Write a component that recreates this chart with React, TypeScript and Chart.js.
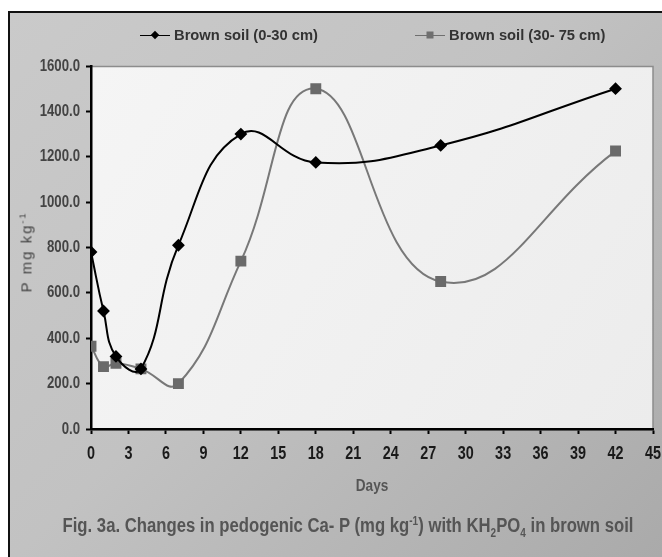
import React, { useEffect, useRef } from "react";
import { Chart, registerables } from "chart.js";

Chart.register(...registerables);

// ---- data ----
const days = [0, 1, 2, 4, 7, 12, 18, 28, 42];
const topsoil = [780, 520, 320, 265, 810, 1300, 1175, 1250, 1500];
const subsoil = [365, 275, 290, 265, 200, 740, 1500, 650, 1225];
const seriesNames = ["Brown soil (0-30 cm)", "Brown soil (30- 75 cm)"];
const xTitle = "Days";
const xMin = 0;
const xMax = 45;
const xStep = 3;
const yMin = 0;
const yMax = 1600;
const yStep = 200;

const FONT = '"Liberation Sans", Arial, sans-serif';
const CANVAS_TEXT_SX = 0.8; // condensed look of the original lettering

const condensedText = {
  id: "condensedText",
  beforeInit(chart: any) {
    const ctx = chart.ctx as any;
    if (ctx.__condensed) return;
    const orig = ctx.fillText.bind(ctx);
    ctx.fillText = (text: string, x: number, y: number, maxWidth?: number) => {
      ctx.save();
      ctx.translate(x, y);
      ctx.scale(CANVAS_TEXT_SX, 1);
      if (maxWidth !== undefined) orig(text, 0, 0, maxWidth / CANVAS_TEXT_SX);
      else orig(text, 0, 0);
      ctx.restore();
    };
    ctx.__condensed = true;
  },
};

const plotBg = {
  id: "plotBg",
  beforeDraw(chart: any) {
    const { ctx, chartArea: a } = chart;
    ctx.save();
    const g = ctx.createLinearGradient(a.left, a.top, a.right, a.bottom);
    g.addColorStop(0, "#f5f5f5");
    g.addColorStop(1, "#ececec");
    ctx.fillStyle = g;
    ctx.fillRect(a.left, a.top, a.right - a.left, a.bottom - a.top);
    ctx.strokeStyle = "#8c8c8c";
    ctx.lineWidth = 1.5;
    ctx.strokeRect(a.left, a.top + 0.5, a.right - a.left, a.bottom - a.top);
    ctx.restore();
  },
};

function LegendItem(props: { left: number; label: string; color: string; marker: "diamond" | "square" }) {
  const { left, label, color, marker } = props;
  const markerStyle: any =
    marker === "diamond"
      ? { width: 6, height: 6, background: color, transform: "translate(-50%,-50%) rotate(45deg)" }
      : { width: 7, height: 7, background: color, transform: "translate(-50%,-50%)" };
  return (
    <div style={{ position: "absolute", left, top: 26, height: 18, display: "flex", alignItems: "center" }}>
      <div style={{ position: "relative", width: 30, height: 0, borderTop: `1px solid ${color}` }}>
        <div style={{ position: "absolute", left: 15, top: -0.5, ...markerStyle }} />
      </div>
      <span
        style={{
          marginLeft: 4,
          font: `bold 15.5px ${FONT}`,
          color: "#333",
          whiteSpace: "nowrap",
          display: "inline-block",
          transform: "scaleX(0.95)",
          transformOrigin: "left center",
        }}
      >
        {label}
      </span>
    </div>
  );
}

export default function App() {
  const ref = useRef<HTMLCanvasElement | null>(null);
  useEffect(() => {
    if (!ref.current) return;
    const chart = new Chart(ref.current, {
      type: "line",
      data: {
        datasets: [
          {
            label: seriesNames[0],
            data: days.map((d, i) => ({ x: d, y: topsoil[i] })),
            borderColor: "#000",
            backgroundColor: "#000",
            borderWidth: 2,
            pointStyle: "rectRot",
            pointRadius: 5,
            tension: 0.45,
          },
          {
            label: seriesNames[1],
            data: days.map((d, i) => ({ x: d, y: subsoil[i] })),
            borderColor: "#787878",
            backgroundColor: "#6a6a6a",
            pointBorderColor: "#6a6a6a",
            borderWidth: 2,
            pointStyle: "rect",
            pointRadius: 6.3,
            tension: 0.45,
          },
        ],
      },
      options: {
        responsive: false,
        animation: false,
        layout: { padding: { top: 66, right: 9, left: 0, bottom: 0 } },
        plugins: { legend: { display: false }, title: { display: false }, tooltip: { enabled: false } },
        scales: {
          x: {
            type: "linear",
            min: xMin,
            max: xMax,
            afterFit: (s: any) => {
              s.height = 128;
              s.paddingLeft = 0;
              s.paddingRight = 0;
            },
            ticks: {
              stepSize: xStep,
              autoSkip: false,
              color: "#1a1a1a",
              padding: 9,
              maxRotation: 0,
              font: { family: FONT, size: 18, weight: "bold" },
            },
            grid: { drawOnChartArea: false, drawTicks: true, tickLength: 5, tickWidth: 2, color: "#000" },
            border: { display: true, color: "#000", width: 2.5 },
            title: {
              display: true,
              text: xTitle,
              color: "#555",
              font: { family: FONT, size: 17, weight: "bold" },
              padding: { top: 0, bottom: 60 },
            },
          },
          y: {
            type: "linear",
            min: yMin,
            max: yMax,
            afterFit: (s: any) => {
              s.width = 91;
            },
            ticks: {
              stepSize: yStep,
              color: "#444",
              padding: 6,
              callback: (v: any) => Number(v).toFixed(1),
              font: { family: FONT, size: 16.5, weight: "bold" },
            },
            grid: { drawOnChartArea: false, drawTicks: true, tickLength: 5, tickWidth: 2, color: "#000" },
            border: { display: true, color: "#000", width: 2.5 },
          },
        },
      },
      plugins: [condensedText, plotBg],
    });
    return () => chart.destroy();
  }, []);

  return (
    <div style={{ position: "absolute", left: 0, top: 0, width: 662, height: 557, overflow: "hidden" }}>
      <div
        style={{
          position: "absolute",
          left: 8,
          top: 11,
          width: 660,
          height: 560,
          borderLeft: "2px solid #111",
          borderTop: "2px solid #111",
          background: "linear-gradient(135deg, #cacaca 0%, #c2c2c2 45%, #a9a9a9 100%)",
        }}
      />
      <canvas ref={ref} width={662} height={557} style={{ position: "absolute", left: 0, top: 0 }} />
      <LegendItem left={140} label={seriesNames[0]} color="#000" marker="diamond" />
      <LegendItem left={415} label={seriesNames[1]} color="#6f6f6f" marker="square" />
      <div
        style={{
          position: "absolute",
          left: 26,
          top: 252,
          transform: "translate(-50%,-50%) rotate(-90deg)",
          font: `15px ${FONT}`,
          color: "#444",
          whiteSpace: "nowrap",
          letterSpacing: 2,
        }}
      >
        P mg kg<sup style={{ fontSize: 9 }}>-1</sup>
      </div>
      <div
        style={{
          position: "absolute",
          left: 348,
          top: 527,
          transform: "translate(-50%,-50%) scaleX(0.835)",
          font: `bold 20px ${FONT}`,
          color: "#555",
          whiteSpace: "nowrap",
        }}
      >
        Fig. 3a. Changes in pedogenic Ca- P (mg kg<sup style={{ fontSize: 12 }}>-1</sup>) with KH
        <sub style={{ fontSize: 12 }}>2</sub>PO<sub style={{ fontSize: 12 }}>4</sub> in brown soil
      </div>
    </div>
  );
}
